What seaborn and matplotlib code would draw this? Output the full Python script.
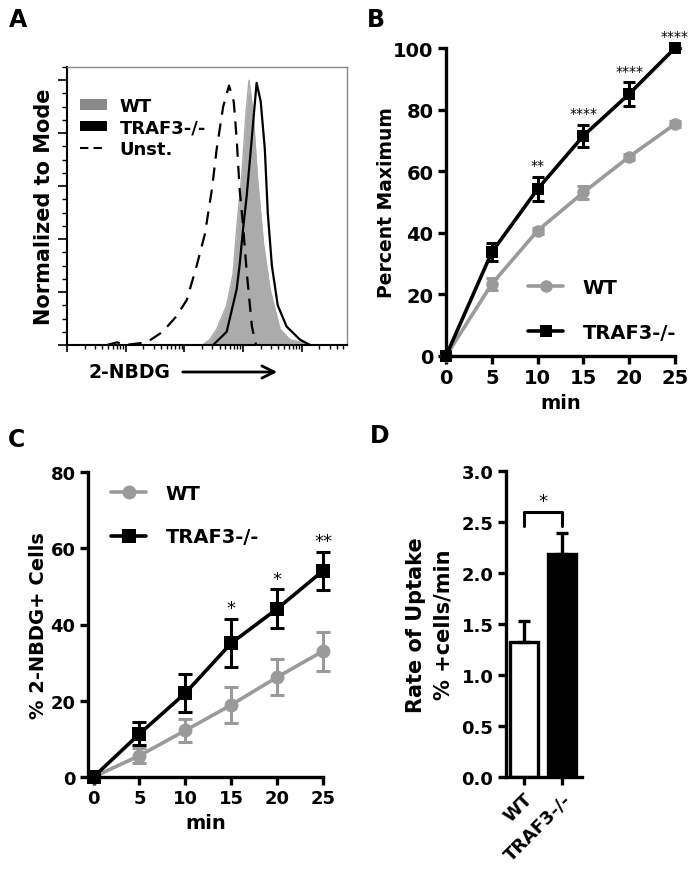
import numpy as np
import pandas as pd
import matplotlib.pyplot as plt
import seaborn as sns
from matplotlib.patches import Patch
from matplotlib.lines import Line2D
from matplotlib.ticker import MultipleLocator, LogLocator, NullFormatter

# ---- panel A: flow histograms (x in log10 units, y in % of mode) ----
wt_hist_x = [2.31, 2.43, 2.55, 2.72, 2.83, 2.89, 2.98, 3.05, 3.10, 3.17, 3.25, 3.35, 3.46, 3.63, 3.80, 4.19]
wt_hist_y = [0, 2, 6, 15, 27, 44, 65, 88, 100, 88, 62, 38, 21, 6, 2, 0]
ko_hist_x = [2.49, 2.72, 2.89, 2.94, 3.00, 3.06, 3.14, 3.23, 3.30, 3.37, 3.42, 3.49, 3.59, 3.74, 3.97, 4.14]
ko_hist_y = [0, 5, 21, 30, 44, 56, 76, 99, 92, 74, 50, 30, 15, 7, 2, 0]
unst_hist_x = [0.68, 0.85, 0.99, 1.36, 1.63, 1.87, 2.04, 2.21, 2.35, 2.47, 2.55, 2.66, 2.76, 2.84, 2.89, 2.94,
               3.00, 3.06, 3.15, 3.22]
unst_hist_y = [0, 1, 0, 1, 5, 11, 17, 30, 42, 59, 74, 90, 98, 92, 78, 59, 45, 28, 7, 0]

# ---- panel B: percent maximum ----
minutes = [0, 5, 10, 15, 20, 25]
b_wt = [0, 23.4, 40.7, 53.1, 64.7, 75.3]
b_wt_err = [0, 2, 1, 2, 1, 1]
b_ko = [0, 33.7, 54.2, 71.5, 85.1, 100]
b_ko_err = [0, 3, 4, 3.5, 3.8, 0]
b_stars = ["", "", "**", "****", "****", "****"]

# ---- panel C: % 2-NBDG+ cells ----
c_wt = [0, 5.6, 12.2, 18.9, 26.2, 33.0]
c_wt_err = [0, 2, 3, 4.8, 4.8, 5.1]
c_ko = [0, 11.3, 22.0, 35.1, 44.1, 54.1]
c_ko_err = [0, 3, 5, 6.3, 5.1, 5]
c_stars = ["", "", "", "*", "*", "**"]

# ---- panel D: rate of uptake ----
genotypes = ["WT", "TRAF3-/-"]
rate = [1.32, 2.19]
rate_err = [0.21, 0.20]

W, H = 697, 870
GRAY = "#9a9a9a"

sns.set_style("ticks")
plt.rcParams['font.family'] = ['DejaVu Sans']
plt.rcParams['font.weight'] = 'bold'
plt.rcParams['axes.labelweight'] = 'bold'
for key in ['text.color', 'axes.labelcolor', 'xtick.color', 'ytick.color', 'axes.edgecolor']:
    plt.rcParams[key] = 'black'


def box(l, t, r, b):
    return [l / W, 1 - b / H, (r - l) / W, (b - t) / H]


fig = plt.figure(figsize=(W / 100, H / 100), dpi=100)

# ================= A =================
axA = fig.add_axes(box(67, 68, 347, 346))
axA.set_xscale('log')
wx = 10 ** np.array(wt_hist_x)
axA.fill_between(wx, wt_hist_y, color="#ababab", lw=0)
sns.lineplot(x=wx, y=wt_hist_y, ax=axA, color="#ababab", lw=1, sort=False)
sns.lineplot(x=10 ** np.array(ko_hist_x), y=ko_hist_y, ax=axA, color="black", lw=1.6, sort=False)
sns.lineplot(x=10 ** np.array(unst_hist_x), y=unst_hist_y, ax=axA, color="black", lw=1.6,
             sort=False, dashes=False, linestyle=(0, (6, 4)))
axA.set_xlim(1, 10 ** 4.77)
axA.set_ylim(0, 105)
axA.yaxis.set_major_locator(MultipleLocator(20))
axA.yaxis.set_minor_locator(MultipleLocator(5))
axA.xaxis.set_major_locator(LogLocator(base=10, numticks=10))
axA.xaxis.set_minor_locator(LogLocator(base=10, subs=np.arange(2, 10), numticks=20))
axA.xaxis.set_major_formatter(NullFormatter())
axA.xaxis.set_minor_formatter(NullFormatter())
axA.set_yticklabels([])
axA.tick_params(axis='y', which='major', length=6.5, width=1.2)
axA.tick_params(axis='y', which='minor', length=3.5, width=1.0)
axA.tick_params(axis='x', which='major', length=5, width=1.2)
axA.tick_params(axis='x', which='minor', length=3, width=1.0)
for s in ['top', 'right']:
    axA.spines[s].set_color('#888888')
    axA.spines[s].set_linewidth(1.0)
for s in ['left', 'bottom']:
    axA.spines[s].set_linewidth(1.5)
axA.set_ylabel("Normalized to Mode", fontsize=15, labelpad=-1)
axA.set_xlabel("")
fig.text(88 / W, 1 - 373 / H, "2-NBDG", fontsize=13.5, fontweight='bold', va='center', ha='left')
axA.annotate("", xy=(280 / W, 1 - 373 / H), xytext=(180 / W, 1 - 373 / H),
             xycoords='figure fraction', textcoords='figure fraction',
             arrowprops=dict(arrowstyle='->', lw=2, color='black', mutation_scale=22))
handlesA = [Patch(facecolor="#8a8a8a", edgecolor='none', label="WT"),
            Patch(facecolor="black", edgecolor='none', label="TRAF3-/-"),
            Line2D([0], [0], color='black', lw=1.5, linestyle=(0, (4, 2.5)), label="Unst.")]
legA = axA.legend(handles=handlesA, loc='upper left', bbox_to_anchor=(80 / W, 1 - 98 / H),
                  bbox_transform=fig.transFigure, frameon=False, fontsize=13, borderpad=0,
                  borderaxespad=0, handlelength=1.5, handleheight=0.5, handletextpad=0.7,
                  labelspacing=0.2)
for t in legA.get_texts():
    t.set_fontweight('bold')


def style_axis(ax, tick_size):
    sns.despine(ax=ax)
    for s in ['left', 'bottom']:
        ax.spines[s].set_linewidth(2.4)
    ax.tick_params(width=2.4, length=6, labelsize=tick_size, pad=3)
    for lab in ax.get_xticklabels() + ax.get_yticklabels():
        lab.set_fontweight('bold')


def draw_curves(ax, wt, wt_err, ko, ko_err, msize, cap):
    sns.lineplot(x=minutes, y=wt, ax=ax, color=GRAY, lw=2.6, marker='o', markersize=msize,
                 markeredgewidth=0, label="WT")
    sns.lineplot(x=minutes, y=ko, ax=ax, color='black', lw=2.6, marker='s', markersize=msize,
                 markeredgewidth=0, label="TRAF3-/-")
    ax.errorbar(minutes, wt, yerr=wt_err, fmt='none', ecolor=GRAY, elinewidth=2.2, capsize=cap,
                capthick=2.2, clip_on=False)
    ax.errorbar(minutes, ko, yerr=ko_err, fmt='none', ecolor='black', elinewidth=2.2, capsize=cap,
                capthick=2.2, clip_on=False)
    for ln in ax.lines:
        ln.set_clip_on(False)


# ================= B =================
axB = fig.add_axes(box(446, 49, 675, 357))
draw_curves(axB, b_wt, b_wt_err, b_ko, b_ko_err, 9, 4)
axB.set_xlim(0, 25)
axB.set_ylim(0, 100)
axB.set_xticks(minutes)
axB.set_yticks([0, 20, 40, 60, 80, 100])
style_axis(axB, 14)
axB.set_xlabel("min", fontsize=14, labelpad=4)
axB.set_ylabel("Percent Maximum", fontsize=13.5, labelpad=-2)
for xm, yv, e, st in zip(minutes, b_ko, b_ko_err, b_stars):
    if st:
        axB.text(xm, yv + e + 1.5, st, ha='center', va='bottom', fontsize=10, fontweight='normal',
                 clip_on=False)
legB = axB.legend(loc='upper left', bbox_to_anchor=(528 / W, 1 - 279 / H), bbox_transform=fig.transFigure,
                  frameon=False, fontsize=14, borderpad=0, borderaxespad=0, handlelength=1.8,
                  handletextpad=1.0, labelspacing=1.35)
for t in legB.get_texts():
    t.set_fontweight('bold')

# ================= C =================
axC = fig.add_axes(box(88, 473, 323, 778))
draw_curves(axC, c_wt, c_wt_err, c_ko, c_ko_err, 10, 5)
axC.set_xlim(-0.6, 25)
axC.set_ylim(0, 80)
axC.set_xticks(minutes)
axC.set_yticks([0, 20, 40, 60, 80])
style_axis(axC, 13)
axC.set_xlabel("min", fontsize=14, labelpad=4)
axC.set_ylabel("% 2-NBDG+ Cells", fontsize=14, labelpad=2)
for xm, yv, e, st in zip(minutes, c_ko, c_ko_err, c_stars):
    if st:
        axC.text(xm, yv + e + 0.5, st, ha='center', va='bottom', fontsize=13, fontweight='normal',
                 clip_on=False)
legC = axC.legend(loc='upper left', bbox_to_anchor=(111 / W, 1 - 485 / H), bbox_transform=fig.transFigure,
                  frameon=False, fontsize=14, borderpad=0, borderaxespad=0, handlelength=1.8,
                  handletextpad=1.0, labelspacing=1.25)
for t in legC.get_texts():
    t.set_fontweight('bold')

# ================= D =================
axD = fig.add_axes(box(506, 472, 582, 778))
dfD = pd.DataFrame({"genotype": genotypes, "rate": rate})
sns.barplot(data=dfD, x="genotype", y="rate", hue="genotype", order=genotypes,
            palette={"WT": "white", "TRAF3-/-": "black"}, edgecolor='black', linewidth=2.4,
            width=0.75, errorbar=None, legend=False, ax=axD)
axD.errorbar([0, 1], rate, yerr=[[0, 0], rate_err], fmt='none', ecolor='black', elinewidth=2.4,
             capsize=4.5, capthick=2.4)
axD.set_xlim(-0.47, 1.53)
axD.set_ylim(0, 3.0)
axD.set_yticks(np.arange(0, 3.01, 0.5))
axD.set_yticklabels([f"{v:.1f}" for v in np.arange(0, 3.01, 0.5)])
style_axis(axD, 13)
axD.set_xticks([0, 1])
axD.set_xticklabels(genotypes, rotation=45, ha='right', rotation_mode='anchor', fontsize=13,
                    fontweight='bold')
axD.set_xlabel("")
axD.set_ylabel("Rate of Uptake\n% +cells/min", fontsize=15, labelpad=6, linespacing=1.45)
axD.plot([0, 0, 1, 1], [2.46, 2.60, 2.60, 2.46], color='black', lw=2.2, clip_on=False)
axD.text(0.5, 2.62, "*", ha='center', va='bottom', fontsize=13, fontweight='normal')

# panel letters
for lx, ly, letter in [(9, 8, "A"), (367, 8, "B"), (8, 428, "C"), (370, 424, "D")]:
    fig.text(lx / W, 1 - ly / H, letter, fontsize=17, fontweight='bold', va='top', ha='left')

fig.savefig("out.png", dpi=100)
